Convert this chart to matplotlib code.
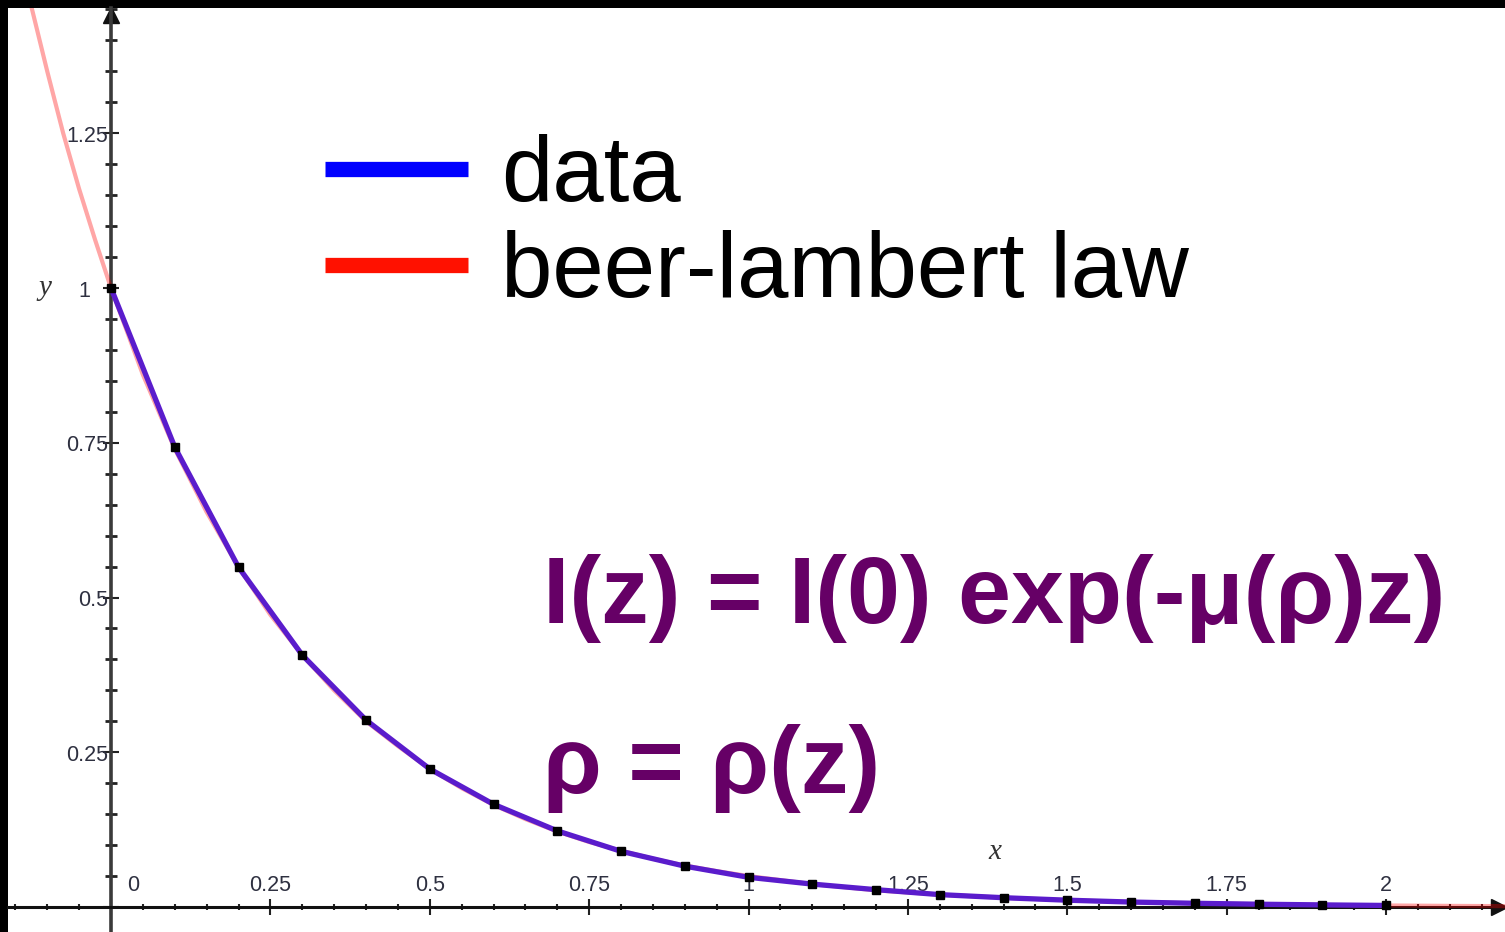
import matplotlib.pyplot as plt
from matplotlib.lines import Line2D
from matplotlib.ticker import MultipleLocator

# -------------------------------
# Dados
# -------------------------------

# pontos medidos (quadrados pretos)
z_data = [0.0, 0.1, 0.2, 0.3, 0.4, 0.5, 0.6, 0.7, 0.8, 0.9, 1.0,
          1.1, 1.2, 1.3, 1.4, 1.5, 1.6, 1.7, 1.8, 1.9, 2.0]
I_data = [1.0, 0.743, 0.549, 0.407, 0.302, 0.223, 0.166, 0.123, 0.090, 0.066, 0.048,
          0.037, 0.028, 0.020, 0.015, 0.011, 0.008, 0.006, 0.0045, 0.0034, 0.0025]

# curva da lei de beer-lambert
z_law = [-0.15, -0.125, -0.1, -0.075, -0.05, -0.025, 0.0, 0.05, 0.1, 0.15, 0.2, 0.25,
         0.3, 0.35, 0.4, 0.45, 0.5, 0.55, 0.6, 0.65, 0.7, 0.75, 0.8, 0.85, 0.9, 0.95,
         1.0, 1.1, 1.2, 1.3, 1.4, 1.5, 1.6, 1.7, 1.8, 1.9, 2.0, 2.1, 2.2]
I_law = [1.57, 1.455, 1.35, 1.25, 1.16, 1.078, 1.0, 0.86, 0.74, 0.638, 0.549, 0.472,
         0.407, 0.35, 0.30, 0.26, 0.223, 0.192, 0.165, 0.142, 0.122, 0.105, 0.091, 0.078, 0.067, 0.058,
         0.05, 0.037, 0.027, 0.02, 0.015, 0.011, 0.008, 0.006, 0.0045, 0.0033, 0.0025, 0.0018, 0.0013]

x_labels = ['0', '0.25', '0.5', '0.75', '1', '1.25', '1.5', '1.75', '2']
x_label_pos = [0, 0.25, 0.5, 0.75, 1, 1.25, 1.5, 1.75, 2]
y_labels = ['0.25', '0.5', '0.75', '1', '1.25']
y_label_pos = [0.25, 0.5, 0.75, 1, 1.25]

W, H = 1505, 932

# -------------------------------
# Figura
# -------------------------------

fig = plt.figure(figsize=(W / 100, H / 100), dpi=100, facecolor='black')
ax = fig.add_axes([8 / W, 0, 1 - 8 / W, 1 - 8 / H])
ax.set_facecolor('white')

ax.set_xlim((8 - 111) / 637.5, (W - 111) / 637.5)
ax.set_ylim((907 - 932) / 619, (907 - 8) / 619)

# eixos cruzando na origem
for side in ['top', 'right']:
    ax.spines[side].set_visible(False)
ax.spines['left'].set_position(('data', 0))
ax.spines['bottom'].set_position(('data', 0))
ax.spines['left'].set_linewidth(2.6)
ax.spines['left'].set_color('#3a3a3a')
ax.spines['bottom'].set_linewidth(2.2)
ax.spines['bottom'].set_color('#111111')

ax.xaxis.set_major_locator(MultipleLocator(0.25))
ax.xaxis.set_minor_locator(MultipleLocator(0.05))
ax.yaxis.set_major_locator(MultipleLocator(0.25))
ax.yaxis.set_minor_locator(MultipleLocator(0.05))
ax.tick_params(axis='both', which='major', direction='inout', length=11, width=1.5,
               color='#222222', labelbottom=False, labelleft=False)
ax.tick_params(axis='x', which='minor', direction='inout', length=5, width=1.5, color='#222222')
ax.tick_params(axis='y', which='minor', direction='inout', length=8, width=2, color='#222222')

# setas nos eixos
ax.plot(0.996, 0, '>', color='#111111', ms=11, transform=ax.get_yaxis_transform(), clip_on=False)
ax.plot(0, 0.992, '^', color='#111111', ms=11, transform=ax.get_xaxis_transform(), clip_on=False)

# rótulos dos ticks
for xp, lab in zip(x_label_pos, x_labels):
    dx = 0.035 if xp == 0 else 0
    ax.text(xp + dx, 0.035, lab, ha='center', va='center', fontsize=15.5,
            family='Liberation Sans', color='#2e3040')
for yp, lab in zip(y_label_pos, y_labels):
    xr = -0.032 if lab == '1' else -0.005
    ax.text(xr, yp - 0.005, lab, ha='right', va='center', fontsize=15.5,
            family='Liberation Sans', color='#2e3040')

ax.text(-0.1035, 1.0, 'y', fontsize=21, style='italic', family='Liberation Serif',
        ha='center', va='center', color='#333333')
ax.text(1.387, 0.089, 'x', fontsize=21, style='italic', family='Liberation Serif',
        ha='center', va='center', color='#333333')

# curvas
ax.plot(z_law, I_law, color='red', alpha=0.35, lw=3, zorder=3)
ax.plot(z_data, I_data, color='#5a1ccc', lw=3.8, zorder=4)
ax.plot(z_data, I_data, 's', color='black', ms=5.5, zorder=5, clip_on=False)

# legenda
handles = [Line2D([], [], color='#0000ff', lw=11, solid_capstyle='butt'),
           Line2D([], [], color='#ff1100', lw=11, solid_capstyle='butt')]
ax.legend(handles, ['data', 'beer-lambert law'], loc='upper left',
          bbox_to_anchor=(325 / W, 1 - 134 / H), bbox_transform=fig.transFigure,
          frameon=False, borderpad=0, borderaxespad=0, handlelength=1.55,
          handletextpad=0.36, labelspacing=0.11,
          prop={'family': 'Liberation Sans', 'size': 66.5})

# equações
ax.text(543 / W, 1 - 623 / H, 'I(z) = I(0) exp(-μ(ρ)z)', transform=fig.transFigure,
        fontsize=68.5, fontweight='bold', family='Liberation Sans', color='#660066',
        ha='left', va='baseline')
ax.text(543 / W, 1 - 793 / H, 'ρ = ρ(z)', transform=fig.transFigure,
        fontsize=68.5, fontweight='bold', family='Liberation Sans', color='#660066',
        ha='left', va='baseline')

fig.savefig('out.png', dpi=100, facecolor=fig.get_facecolor())
